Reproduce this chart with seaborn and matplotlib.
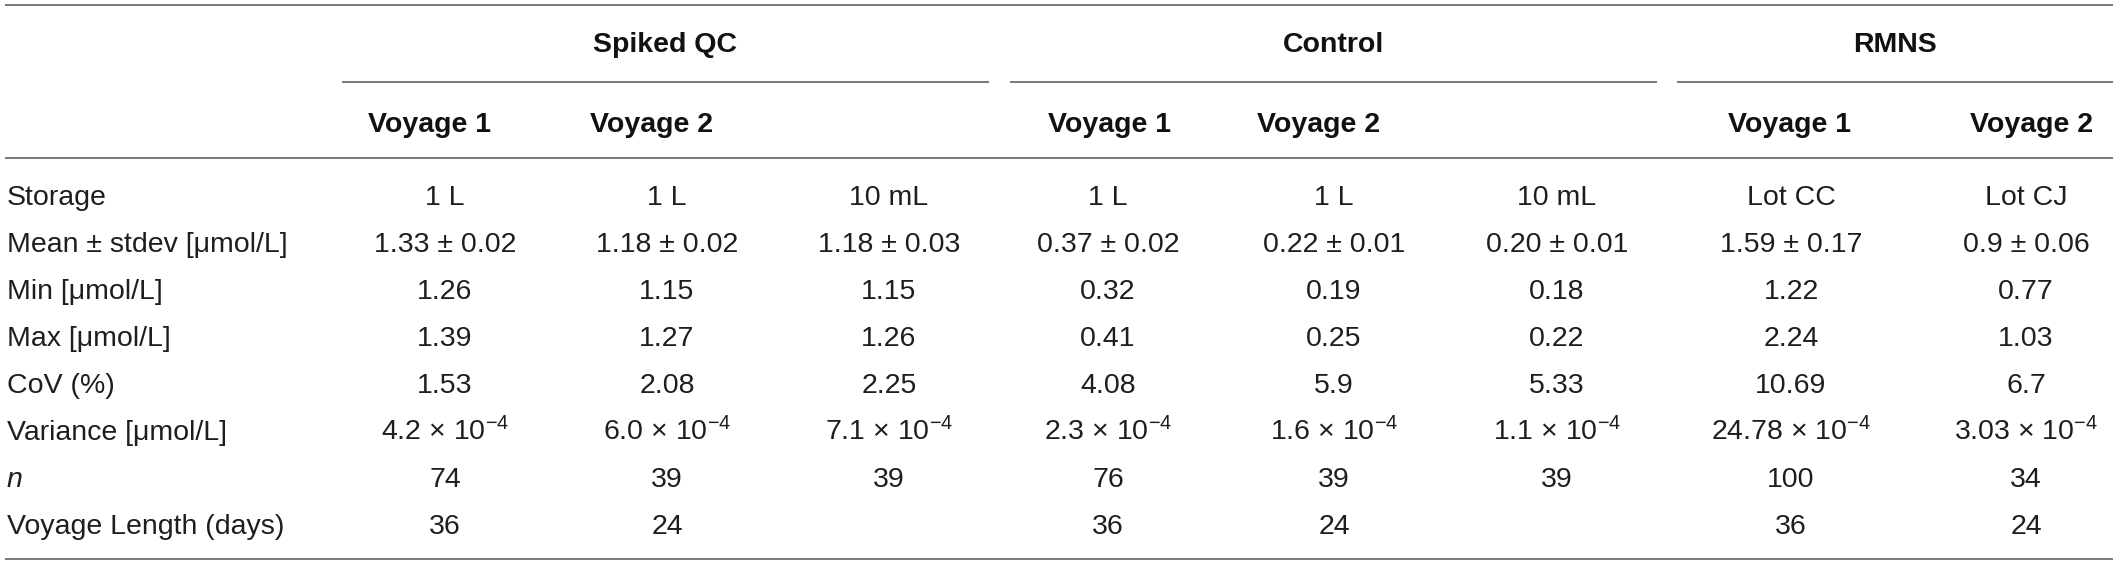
import matplotlib
matplotlib.use("Agg")
import matplotlib.pyplot as plt
import seaborn as sns

# ---------------- data ----------------
group_names = ["Spiked QC", "Control", "RMNS"]
voyage_headers = ["Voyage 1", "Voyage 2", "Voyage 1", "Voyage 2", "Voyage 1", "Voyage 2"]
row_labels = ["Storage", "Mean ± stdev [μmol/L]", "Min [μmol/L]", "Max [μmol/L]",
              "CoV (%)", "Variance [μmol/L]", "n", "Voyage Length (days)"]
storage = ["1 L", "1 L", "10 mL", "1 L", "1 L", "10 mL", "Lot CC", "Lot CJ"]
mean_sd = ["1.33 ± 0.02", "1.18 ± 0.02", "1.18 ± 0.03", "0.37 ± 0.02",
           "0.22 ± 0.01", "0.20 ± 0.01", "1.59 ± 0.17", "0.9 ± 0.06"]
min_vals = ["1.26", "1.15", "1.15", "0.32", "0.19", "0.18", "1.22", "0.77"]
max_vals = ["1.39", "1.27", "1.26", "0.41", "0.25", "0.22", "2.24", "1.03"]
cov_vals = ["1.53", "2.08", "2.25", "4.08", "5.9", "5.33", "10.69", "6.7"]
variance_mant = ["4.2", "6.0", "7.1", "2.3", "1.6", "1.1", "24.78", "3.03"]
variance_exp = ["-4"] * 8
n_vals = ["74", "39", "39", "76", "39", "39", "100", "34"]
voyage_len = ["36", "24", "", "36", "24", "", "36", "24"]

variance = [f"{m} × 10$^{{{e}}}$" for m, e in zip(variance_mant, variance_exp)]
rows = [storage, mean_sd, min_vals, max_vals, cov_vals, variance, n_vals, voyage_len]

# ---------------- layout ----------------
W, H = 2118, 567
col_x = [445, 667, 889, 1108, 1334, 1557, 1791, 2026]
head_x = [429, 652, 1109, 1319, 1790, 2032]
group_x = [665, 1333, 1895]
group_spans = [(342, 989), (1010, 1657), (1677, 2113)]
row_base = [205, 252, 299, 346, 393, 440, 487, 534]
label_x = 7

sns.set_theme(style="white")
plt.rcParams["font.family"] = ["Liberation Sans", "DejaVu Sans"]
plt.rcParams["mathtext.fontset"] = "custom"
plt.rcParams["mathtext.rm"] = "Liberation Sans"
plt.rcParams["mathtext.it"] = "Liberation Sans:italic"
plt.rcParams["mathtext.bf"] = "Liberation Sans:bold"

fig = plt.figure(figsize=(W / 100, H / 100), dpi=100)
ax = fig.add_axes([0, 0, 1, 1])
ax.set_xlim(0, W)
ax.set_ylim(H, 0)
ax.axis("off")

fs = 20.5
txt_c = "#1e1e1e"
line_c = "#787878"
lw = 1.4

# horizontal rules
ax.plot([5, 2113], [5, 5], color=line_c, lw=lw, solid_capstyle="butt")
for x0, x1 in group_spans:
    ax.plot([x0, x1], [82, 82], color=line_c, lw=lw, solid_capstyle="butt")
ax.plot([5, 2113], [158, 158], color=line_c, lw=lw, solid_capstyle="butt")
ax.plot([5, 2113], [559, 559], color=line_c, lw=lw, solid_capstyle="butt")

# headers
for name, gx in zip(group_names, group_x):
    ax.text(gx, 52, name, ha="center", va="baseline", fontsize=fs,
            fontweight="bold", color="#111111")
for name, hx in zip(voyage_headers, head_x):
    ax.text(hx, 132, name, ha="center", va="baseline", fontsize=fs,
            fontweight="bold", color="#111111")

# row labels
for lab, yb in zip(row_labels, row_base):
    ax.text(label_x, yb, lab, ha="left", va="baseline", fontsize=fs,
            color=txt_c, style="italic" if lab == "n" else "normal")

# cells
for vals, yb in zip(rows, row_base):
    for v, cx in zip(vals, col_x):
        if v:
            ax.text(cx, yb, v, ha="center", va="baseline", fontsize=fs, color=txt_c)

fig.savefig("out.png", dpi=100, facecolor="white")
